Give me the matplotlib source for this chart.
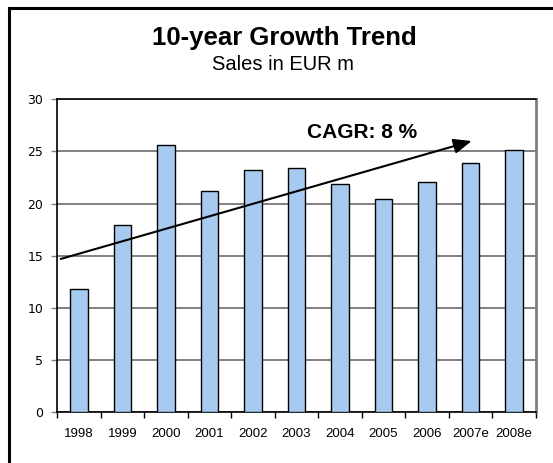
import matplotlib
matplotlib.use("Agg")
import matplotlib.pyplot as plt
import matplotlib.patches as patches
import numpy as np

# data
years = ["1998", "1999", "2000", "2001", "2002", "2003", "2004",
         "2005", "2006", "2007e", "2008e"]
sales = [11.8, 18.0, 25.6, 21.25, 23.2, 23.4, 21.9, 20.45, 22.05, 23.85, 25.1]
y_ticks = [0, 5, 10, 15, 20, 25, 30]
trend_start = (-0.42, 14.7)
trend_end = (9.03, 26.0)

plt.rcParams['font.family'] = ['Liberation Sans', 'DejaVu Sans']

fig = plt.figure(figsize=(5.53, 4.63), dpi=100)
ax = fig.add_axes([57.3 / 553, 1 - 412.3 / 463, (535.7 - 57.3) / 553, (412.3 - 99.3) / 463])

x = np.arange(len(years))
ax.bar(x, sales, width=0.41, color="#A6CAF0", edgecolor="black", linewidth=1.0, zorder=3)

ax.set_xlim(-0.5, len(years) - 0.5)
ax.set_ylim(0, 30)
ax.set_yticks(y_ticks)
ax.set_yticklabels([str(v) for v in y_ticks], family="DejaVu Sans", fontsize=9)
ax.yaxis.grid(True, color="#808080", linewidth=1.4, zorder=0)
ax.tick_params(axis="y", length=4, width=1, pad=6, color="#808080")

# ticks on category boundaries, labels centered
ax.set_xticks(np.arange(len(years) + 1) - 0.5)
ax.set_xticklabels([])
ax.set_xticks(x, minor=True)
ax.set_xticklabels(years, minor=True, fontsize=9.5)
ax.tick_params(axis="x", which="major", length=4, width=1, direction="out")
ax.tick_params(axis="x", which="minor", length=0, pad=11)

for s in ["left", "bottom", "top"]:
    ax.spines[s].set_color("black")
    ax.spines[s].set_linewidth(1.2)
ax.spines["right"].set_color("#808080")
ax.spines["right"].set_linewidth(2)

ax.annotate("", xy=trend_end, xytext=trend_start,
            arrowprops=dict(arrowstyle="-|>,head_length=1.1,head_width=0.45",
                            color="black", lw=1.5, shrinkA=0, shrinkB=0),
            zorder=5)

fig.text(362 / 553, 1 - 132.5 / 463, "CAGR: 8 %", ha="center", va="center",
         fontsize=15, fontweight="bold")
fig.text(284 / 553, 1 - 38 / 463, "10-year Growth Trend", ha="center", va="center",
         fontsize=18.5, fontweight="bold")
fig.text(283 / 553, 1 - 64.5 / 463, "Sales in EUR m", ha="center", va="center",
         fontsize=14.5)

# outer frame, runs off the right and bottom edges
frame = patches.Rectangle((8.7 / 553, -0.2), 1.2, 1.2 - 8.3 / 463,
                          transform=fig.transFigure, fill=False,
                          edgecolor="black", linewidth=2.2)
fig.add_artist(frame)

fig.savefig("out.png", dpi=100)
